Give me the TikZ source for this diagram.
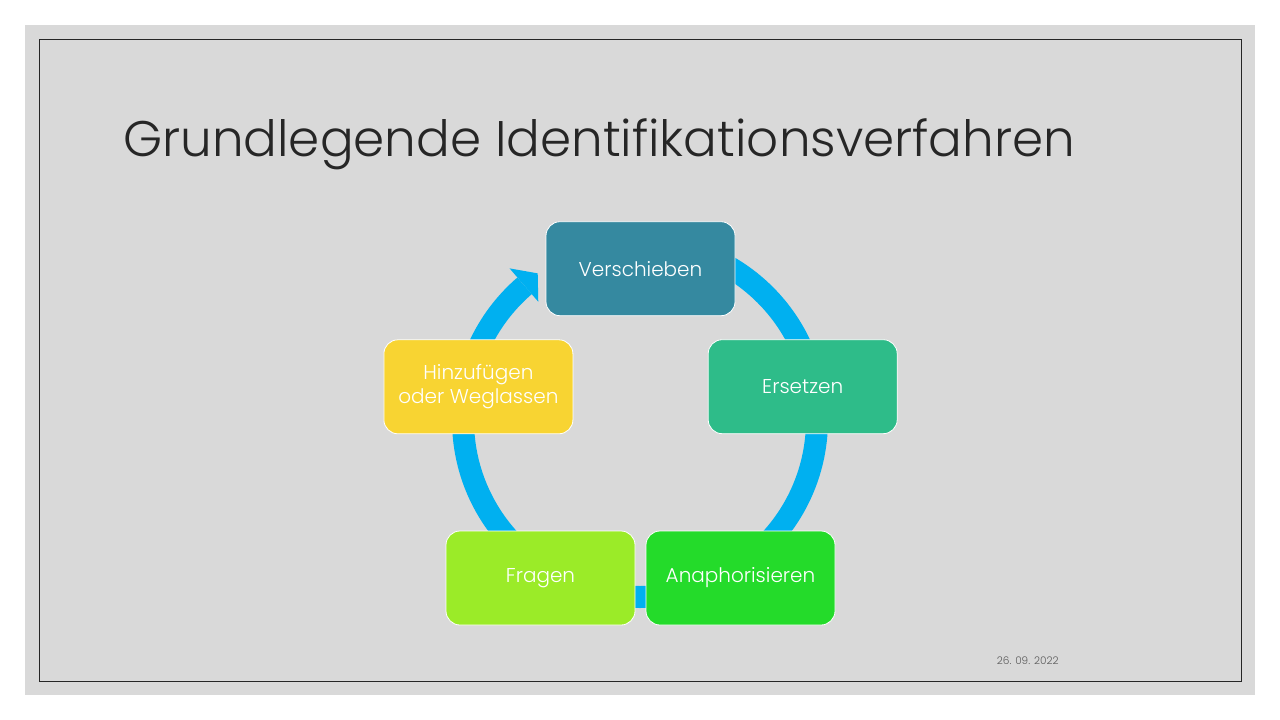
\documentclass[tikz,border=0pt]{standalone}
\usepackage{fontspec}
\setmainfont{Poppins}[UprightFont={* Light}]
\definecolor{slidegray}{HTML}{D9D9D9}
\definecolor{framegray}{HTML}{262626}
\definecolor{titlegray}{HTML}{262626}
\definecolor{dategray}{HTML}{595959}
\definecolor{ringblue}{HTML}{00B0F0}
\definecolor{tealbox}{HTML}{3589A0}
\definecolor{seabox}{HTML}{2EBC89}
\definecolor{greenbox}{HTML}{24DB2A}
\definecolor{limebox}{HTML}{9BEB28}
\definecolor{yellowbox}{HTML}{F8D432}
\begin{document}
\begin{tikzpicture}[x=1pt,y=1pt]
	\tikzstyle{every node}+=[inner sep=0pt]
	\tikzstyle{stage}=[rounded corners=14pt, draw=white, line width=0.8pt, minimum width=189pt, minimum height=94pt, text=white, font=\fontsize{20}{23.5}\selectfont, align=center]
	\useasboundingbox (0,0) rectangle (1280,-720);
	\fill [white] (0,0) rectangle (1280,-720);
	\fill [slidegray] (25,-25) rectangle (1255,-694.5);
	\draw [framegray, line width=1pt] (39.5,-39.5) rectangle (1241.5,-681);
	\node (title) at (123,-156) [anchor=base west, text=titlegray, font=\fontsize{50}{56}\selectfont] {Grundlegende Identifikationsverfahren};
	\coordinate (centre) at (640,-420);
	\draw [ringblue, line width=22pt] ([shift={(90:177)}]centre) arc [start angle=90, end angle=-229.3, radius=177];
	\fill [ringblue] ([shift={(130.7:200)}]centre) -- ([shift={(124.9:178.8)}]centre) -- ([shift={(130.7:156)}]centre) -- cycle;
	\node (verschieben) at (640.5,-268.7) [stage, fill=tealbox] {Verschieben};
	\node (ersetzen) at (802.7,-386.7) [stage, fill=seabox] {Ersetzen};
	\node (anaphorisieren) at (740.5,-578) [stage, fill=greenbox] {Anaphorisieren};
	\node (fragen) at (540.5,-578) [stage, fill=limebox] {Fragen};
	\node (hinzufuegen) at (478.4,-386.8) [stage, fill=yellowbox] {Hinzufügen\\oder Weglassen};
	\node (datum) at (996.7,-664) [anchor=base west, text=dategray, font=\fontsize{10.5}{12}\selectfont] {26. 09. 2022};
\end{tikzpicture}
\end{document}
